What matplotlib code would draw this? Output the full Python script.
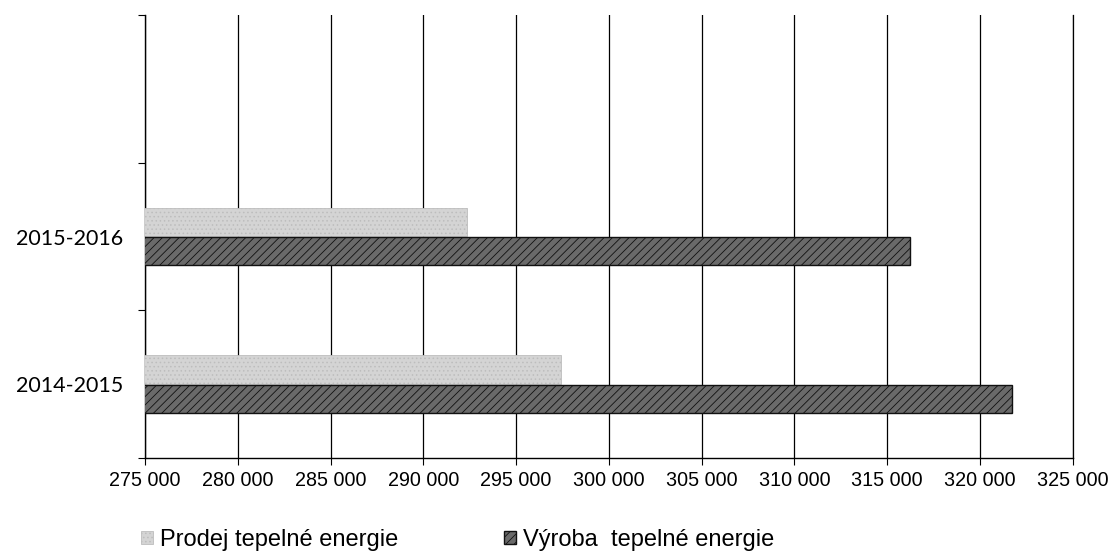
import numpy as np
import matplotlib
matplotlib.use("Agg")
import matplotlib.pyplot as plt
from matplotlib.ticker import FuncFormatter

plt.rcParams['font.family'] = ['Liberation Sans', 'DejaVu Sans']
plt.rcParams['hatch.linewidth'] = 0.6

# data
categories = ['2014-2015', '2015-2016']
prodej = [297400, 292350]
vyroba = [321750, 316250]
series_names = ['Prodej tepelné energie', 'Výroba  tepelné energie']
x_ticks = list(range(275000, 325001, 5000))

fig = plt.figure(figsize=(11.08, 5.54), dpi=100)
ax = fig.add_axes([0.131, 0.173, 0.837, 0.8])

y = np.arange(len(categories))
h = 0.19
ax.barh(y + 0.1, prodej, height=h, left=0, color='#d4d4d4', edgecolor='#bdbdbd',
        hatch='....', linewidth=0.6, label=series_names[0], zorder=3)
ax.barh(y - 0.1, vyroba, height=h, left=0, color='#6a6a6a', edgecolor='#111111',
        hatch='////', linewidth=1.0, label=series_names[1], zorder=3)

ax.set_xlim(275000, 325000)
ax.set_ylim(-0.5, 2.5)
ax.set_xticks(x_ticks)
ax.xaxis.set_major_formatter(FuncFormatter(lambda v, p: f'{int(v):,}'.replace(',', ' ')))
ax.grid(axis='x', color='black', linewidth=0.9, zorder=0)

# category boundaries as ticks, labels in between
ax.set_yticks([-0.5, 0.5, 1.5, 2.5])
ax.set_yticklabels([])
ax.set_yticks(y, minor=True)
ax.set_yticklabels(categories, minor=True, fontfamily=['Lato', 'DejaVu Sans'], fontsize=15.5)
ax.tick_params(axis='y', which='minor', length=0, pad=16)
ax.tick_params(axis='y', which='major', length=5, direction='out')
ax.tick_params(axis='x', length=5, labelsize=14.2, pad=4)

ax.spines['top'].set_visible(False)
ax.spines['right'].set_linewidth(0.9)
ax.spines['left'].set_linewidth(1.0)
ax.spines['bottom'].set_linewidth(1.0)

ax.legend(loc='center', bbox_to_anchor=(0.337, -0.185), ncol=2, frameon=False,
          fontsize=17, handlelength=0.5, handleheight=0.5, handletextpad=0.3,
          columnspacing=4.5)

fig.savefig('out.png', dpi=100)
